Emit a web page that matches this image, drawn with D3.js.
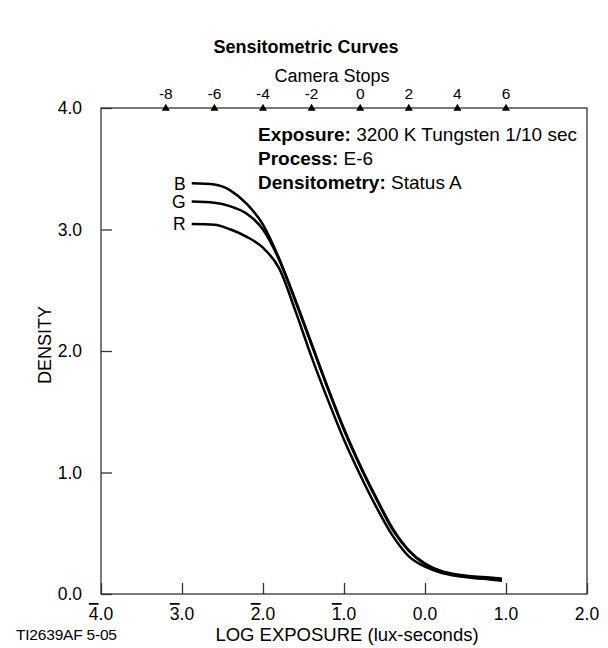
<!DOCTYPE html>
<html>
<head>
<meta charset="utf-8">
<script src="https://cdn.jsdelivr.net/npm/d3@7"></script>
<style>
  html, body { margin: 0; padding: 0; background: #fff; }
  svg { display: block; font-family: "Liberation Sans", Arial, Helvetica, sans-serif; }
</style>
</head>
<body>
<svg id="chart" width="608" height="648"></svg>
<script>
// ---- data ----
const logExposure = [-2.88, -2.6, -2.4, -2.2, -2.0, -1.8, -1.6, -1.4, -1.2, -1.0, -0.8, -0.6, -0.4, -0.2, 0.0, 0.2, 0.4, 0.6, 0.8, 0.95];
const densityB = [3.38, 3.37, 3.32, 3.21, 3.04, 2.76, 2.42, 2.06, 1.70, 1.36, 1.06, 0.79, 0.54, 0.36, 0.25, 0.19, 0.16, 0.145, 0.135, 0.125];
const densityG = [3.23, 3.22, 3.19, 3.13, 3.00, 2.75, 2.41, 2.05, 1.69, 1.35, 1.05, 0.78, 0.53, 0.355, 0.245, 0.185, 0.155, 0.14, 0.13, 0.12];
const densityR = [3.045, 3.04, 3.0, 2.94, 2.85, 2.68, 2.33, 1.95, 1.60, 1.27, 0.98, 0.715, 0.48, 0.31, 0.225, 0.175, 0.148, 0.132, 0.12, 0.11];
const seriesNames = ["B", "G", "R"];
const xTicks = [-4, -3, -2, -1, 0, 1, 2];
const xTickLabels = ["4.0", "3.0", "2.0", "1.0", "0.0", "1.0", "2.0"];
const xTickBar = [true, true, true, true, false, false, false];
const yTicks = [0, 1, 2, 3, 4];
const yTickLabels = ["0.0", "1.0", "2.0", "3.0", "4.0"];
const cameraStops = [-8, -6, -4, -2, 0, 2, 4, 6];
const cameraStopLabels = ["-8", "-6", "-4", "-2", "0", "2", "4", "6"];
const chartTitle = "Sensitometric Curves";
const notes = [["Exposure:", " 3200 K Tungsten 1/10 sec"], ["Process:", " E-6"], ["Densitometry:", " Status A"]];

// ---- layout ----
const svg = d3.select("#chart");
const pL = 101, pR = 587, pT = 108, pB = 594;
const x = d3.scaleLinear().domain([-4, 2]).range([pL, pR]);
const y = d3.scaleLinear().domain([0, 4]).range([pB, pT]);
const stopScale = d3.scaleLinear().domain([-8, 6]).range([x(-3.2), x(1.0)]);
const frameColor = "#333";

// title
svg.append("text").attr("x", 306).attr("y", 53).attr("text-anchor", "middle")
  .attr("font-size", 18).attr("font-weight", "bold").attr("fill", "#000").text(chartTitle);

// frame
svg.append("rect").attr("x", pL).attr("y", pT).attr("width", pR - pL).attr("height", pB - pT)
  .attr("fill", "none").attr("stroke", frameColor).attr("stroke-width", 1.3);

// bottom axis
const xAxis = d3.axisBottom(x).tickValues(xTicks).tickSize(-11).tickFormat("");
const gx = svg.append("g").attr("transform", `translate(0,${pB})`).call(xAxis);
gx.select(".domain").remove();
gx.selectAll(".tick line").attr("stroke", frameColor).attr("stroke-width", 1.3);
xTicks.forEach((v, i) => {
  const t = svg.append("text").attr("x", x(v)).attr("y", 620).attr("text-anchor", "middle")
    .attr("font-size", 17.5).attr("fill", "#000");
  const lbl = xTickLabels[i];
  if (xTickBar[i]) {
    t.append("tspan").attr("text-decoration", "overline").text(lbl[0]);
    t.append("tspan").text(lbl.slice(1));
  } else {
    t.text(lbl);
  }
});

// left axis
const yAxis = d3.axisLeft(y).tickValues(yTicks).tickSize(-11).tickFormat("");
const gy = svg.append("g").attr("transform", `translate(${pL},0)`).call(yAxis);
gy.select(".domain").remove();
gy.selectAll(".tick line").attr("stroke", frameColor).attr("stroke-width", 1.3);
yTicks.forEach((v, i) => {
  svg.append("text").attr("x", 82).attr("y", y(v)).attr("dy", "0.36em").attr("text-anchor", "end")
    .attr("font-size", 17.5).attr("fill", "#000").text(yTickLabels[i]);
});

// top camera stops axis
const triangle = d3.symbol().type(d3.symbolTriangle).size(28);
cameraStops.forEach((s, i) => {
  svg.append("path").attr("d", triangle()).attr("transform", `translate(${stopScale(s)},${pT + 0.5})`).attr("fill", "#000");
  svg.append("text").attr("x", stopScale(s)).attr("y", 99).attr("text-anchor", "middle")
    .attr("font-size", 15.5).attr("fill", "#000").text(cameraStopLabels[i]);
});
svg.append("text").attr("x", 332).attr("y", 82).attr("text-anchor", "middle")
  .attr("font-size", 18).attr("fill", "#000").text("Camera Stops");

// axis titles
svg.append("text").attr("x", 347).attr("y", 641).attr("text-anchor", "middle")
  .attr("font-size", 18.5).attr("fill", "#000").text("LOG EXPOSURE (lux-seconds)");
svg.append("text").attr("transform", "translate(51,345) rotate(-90)").attr("text-anchor", "middle")
  .attr("font-size", 18).attr("fill", "#000").text("DENSITY");
svg.append("text").attr("x", 16).attr("y", 640).attr("font-size", 15.5).attr("letter-spacing", -0.2)
  .attr("fill", "#000").text("TI2639AF 5-05");

// notes
notes.forEach((n, i) => {
  const t = svg.append("text").attr("x", 258).attr("y", 141 + i * 24).attr("font-size", 19).attr("fill", "#000");
  t.append("tspan").attr("font-weight", "bold").text(n[0]);
  t.append("tspan").text(n[1]);
});

// curves
const series = [densityB, densityG, densityR];
const line = d3.line().x((d, i) => x(logExposure[i])).y(d => y(d)).curve(d3.curveMonotoneX);
series.forEach((vals, k) => {
  svg.append("path").datum(vals).attr("d", line).attr("fill", "none")
    .attr("stroke", "#000").attr("stroke-width", 2.5);
  svg.append("text").attr("x", x(logExposure[0]) - 6).attr("y", y(vals[0])).attr("dy", "0.36em")
    .attr("text-anchor", "end").attr("font-size", 17.5).attr("fill", "#000").text(seriesNames[k]);
});
</script>
</body>
</html>
